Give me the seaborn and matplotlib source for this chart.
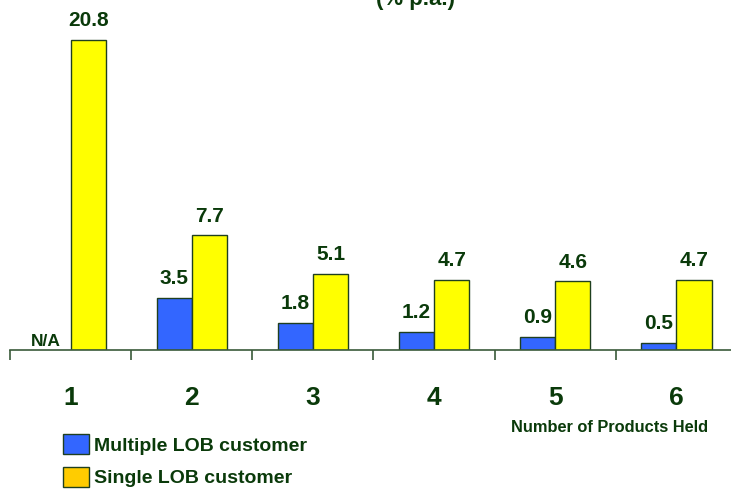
import numpy as np
import pandas as pd
import matplotlib
matplotlib.use("Agg")
import matplotlib.pyplot as plt
from matplotlib.patches import Patch
import seaborn as sns

categories = ["1", "2", "3", "4", "5", "6"]
multiple_lob = [np.nan, 3.5, 1.8, 1.2, 0.9, 0.5]
single_lob = [20.8, 7.7, 5.1, 4.7, 4.6, 4.7]
series_names = ["Multiple LOB customer", "Single LOB customer"]
title_text = "(% p.a.)"
xlabel_text = "Number of Products Held"
na_text = "N/A"

TXT = "#0a3a0a"
AXC = "#3a5a3a"
EDGE = "#1f3f1f"
BAR_COLORS = ["#3366ff", "#ffff00"]
LEG_COLORS = ["#3366ff", "#ffcc00"]

sns.set_style("white")
plt.rcParams["font.family"] = ["Liberation Sans", "DejaVu Sans"]

df = pd.DataFrame({
    "cat": categories * 2,
    "series": [series_names[0]] * 6 + [series_names[1]] * 6,
    "value": multiple_lob + single_lob,
})

W, H = 731, 496
fig = plt.figure(figsize=(W / 100, H / 100), dpi=100)
ax = fig.add_axes([10 / W, (H - 350) / H, 727 / W, 350 / H])

sns.barplot(data=df.dropna(), x="cat", y="value", hue="series", order=categories,
            hue_order=series_names, palette=BAR_COLORS, width=0.58, saturation=1,
            edgecolor=EDGE, linewidth=1.0, ax=ax, legend=False)

ax.set_xlim(-0.5, 5.5)
ax.set_ylim(0, 350 / 14.9)

for cont in ax.containers:
    ax.bar_label(cont, fmt="%.1f", padding=7, fontsize=15, fontweight="bold", color=TXT)

# N/A label for the missing bar
ax.text(-0.205, 0.1, na_text, ha="center", va="bottom", fontsize=12.5,
        fontweight="bold", color=TXT)

for s in ["top", "right", "left"]:
    ax.spines[s].set_visible(False)
ax.spines["bottom"].set_color(AXC)
ax.spines["bottom"].set_linewidth(1.2)
ax.set_yticks([])
ax.set_ylabel("")
ax.set_xlabel("")
ax.set_xticks(range(len(categories)))
ax.set_xticklabels(categories, fontsize=19, fontweight="bold", color=TXT)
ax.tick_params(axis="x", which="major", bottom=True, length=0, pad=26)
ax.set_xticks(np.arange(-0.5, 6.0, 1.0), minor=True)
ax.tick_params(axis="x", which="minor", bottom=True, length=7.5, width=1.2,
               color=AXC, direction="out")

fig.text(610 / W, 1 - 427 / H, xlabel_text, ha="center", va="center",
         fontsize=11.8, fontweight="bold", color=TXT)
fig.text(416 / W, 1 - 5 / H, title_text, ha="center", va="baseline",
         fontsize=16, fontweight="bold", color=TXT)

handles = [Patch(facecolor=c, edgecolor=EDGE, linewidth=1.0) for c in LEG_COLORS]
leg = fig.legend(handles, series_names, loc="upper left",
                 bbox_to_anchor=(63 / W, 1 - 434 / H), frameon=False,
                 prop={"weight": "bold", "size": 14}, handlelength=1.34,
                 handleheight=1.2, handletextpad=0.26, labelspacing=0.62,
                 borderpad=0, borderaxespad=0)
for t in leg.get_texts():
    t.set_color(TXT)

fig.savefig("out.png", dpi=100)
